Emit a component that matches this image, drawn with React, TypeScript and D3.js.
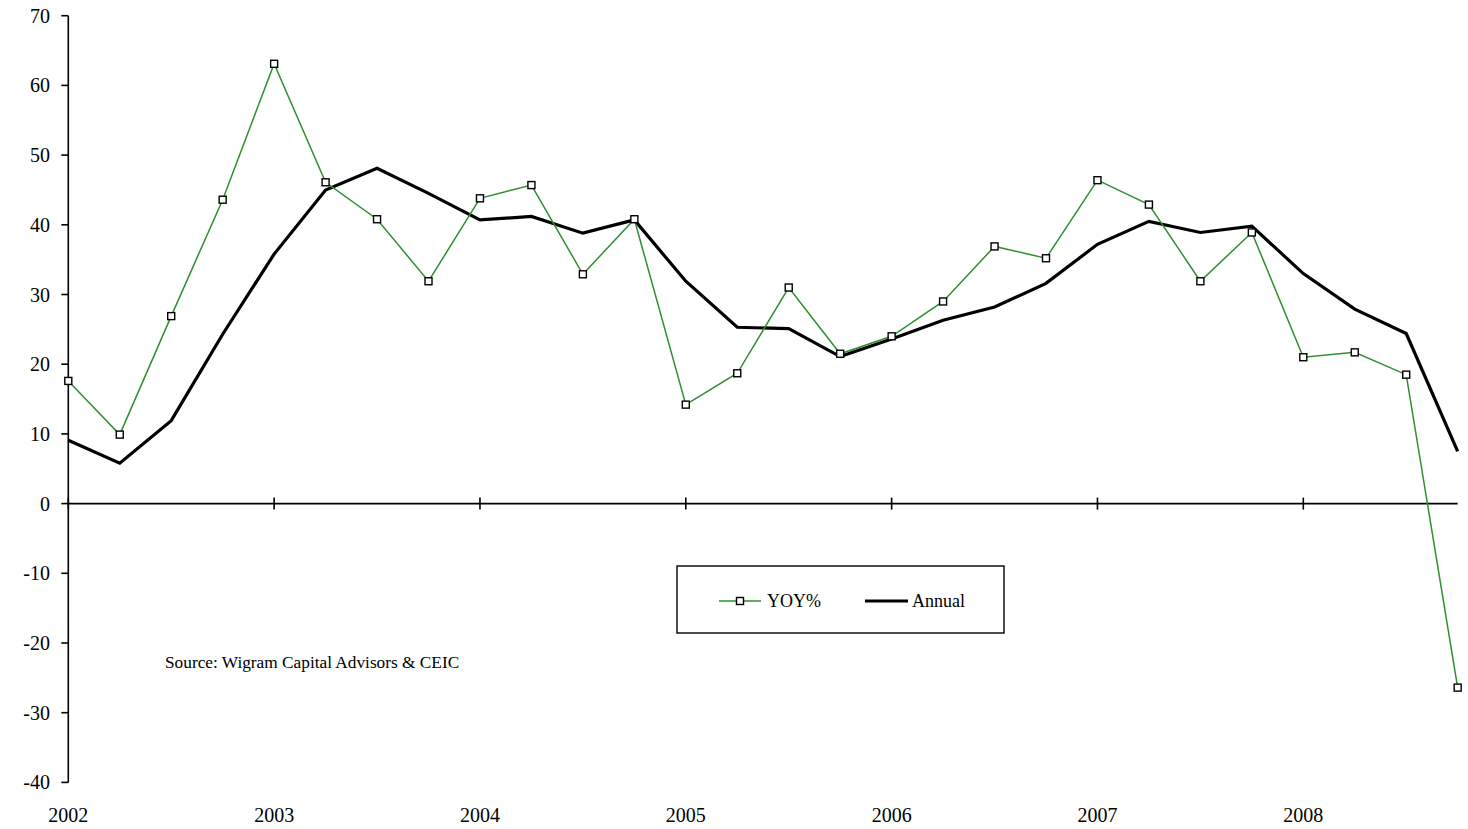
import React from "react";
import * as d3 from "d3";

// Quarterly observations, 2002 Q1 .. 2008 Q4
const quarters: number[] = d3.range(28).map((i) => 2002 + i * 0.25);
const yoy: number[] = [
  17.6, 9.9, 26.9, 43.6, 63.1, 46.1, 40.8, 31.9,
  43.8, 45.7, 32.9, 40.8, 14.2, 18.7, 31.0, 21.5,
  24.0, 29.0, 36.9, 35.2, 46.4, 42.9, 31.9, 38.9,
  21.0, 21.7, 18.5, -26.4,
];
const annual: number[] = [
  9.1, 5.8, 11.9, 24.3, 35.8, 45.0, 48.1, 44.5,
  40.7, 41.2, 38.8, 40.7, 31.9, 25.3, 25.1, 21.1,
  23.6, 26.3, 28.2, 31.6, 37.2, 40.5, 38.9, 39.8,
  33.0, 27.9, 24.4, 7.5,
];
const yearTicks: number[] = [2002, 2003, 2004, 2005, 2006, 2007, 2008];
const valueTicks: number[] = [70, 60, 50, 40, 30, 20, 10, 0, -10, -20, -30, -40];

const W = 1468;
const H = 829;
const FONT = "'Liberation Serif', 'Times New Roman', serif";
const GREEN = "#2f8f2f";

export default function App() {
  const x = d3.scaleLinear().domain([2002, 2008]).range([68.3, 1303.3]);
  const y = d3.scaleLinear().domain([70, -40]).range([15.7, 782.4]);

  const line = d3
    .line<[number, number]>()
    .x((d) => x(d[0]))
    .y((d) => y(d[1]));

  const yoyPts: [number, number][] = quarters.map((q, i) => [q, yoy[i]]);
  const annPts: [number, number][] = quarters.map((q, i) => [q, annual[i]]);

  const lastX = x(quarters[quarters.length - 1]);
  const ms = 7;

  return (
    <svg
      width={W}
      height={H}
      style={{ position: "absolute", left: 0, top: 0, background: "#fff" }}
      fontFamily={FONT}
    >
      {/* value axis */}
      <line x1={x(2002)} x2={x(2002)} y1={y(70)} y2={y(-40)} stroke="#000" strokeWidth={1.6} />
      {valueTicks.map((v) => (
        <g key={v}>
          <line x1={x(2002) - 7} x2={x(2002)} y1={y(v)} y2={y(v)} stroke="#000" strokeWidth={1.6} />
          <text x={50} y={y(v)} dy="0.35em" textAnchor="end" fontSize={20} fill="#000">
            {v}
          </text>
        </g>
      ))}

      {/* time axis along zero */}
      <line x1={x(2002)} x2={lastX} y1={y(0)} y2={y(0)} stroke="#000" strokeWidth={1.6} />
      {yearTicks.map((t) => (
        <g key={t}>
          <line x1={x(t)} x2={x(t)} y1={y(0) - 6} y2={y(0) + 6} stroke="#000" strokeWidth={1.6} />
          <text x={x(t)} y={822} textAnchor="middle" fontSize={20} fill="#000">
            {t}
          </text>
        </g>
      ))}

      {/* annual series */}
      <path d={line(annPts) ?? ""} fill="none" stroke="#000" strokeWidth={3.2} strokeLinejoin="miter" />

      {/* YoY series with square markers */}
      <path d={line(yoyPts) ?? ""} fill="none" stroke={GREEN} strokeWidth={1.5} />
      {yoyPts.map((p, i) => (
        <rect
          key={i}
          x={x(p[0]) - ms / 2}
          y={y(p[1]) - ms / 2}
          width={ms}
          height={ms}
          fill="#fff"
          stroke="#000"
          strokeWidth={1.4}
        />
      ))}

      {/* legend */}
      <rect x={677} y={566} width={327} height={67} fill="#fff" stroke="#000" strokeWidth={1.4} />
      <line x1={719} x2={761} y1={601} y2={601} stroke={GREEN} strokeWidth={1.5} />
      <rect x={740 - ms / 2} y={601 - ms / 2} width={ms} height={ms} fill="#fff" stroke="#000" strokeWidth={1.4} />
      <text x={767} y={601} dy="0.35em" fontSize={18} fill="#000">
        YOY%
      </text>
      <line x1={865} x2={908} y1={601} y2={601} stroke="#000" strokeWidth={3.2} />
      <text x={912} y={601} dy="0.35em" fontSize={18} fill="#000">
        Annual
      </text>

      <text x={165} y={668} fontSize={17.3} fill="#000">
        Source: Wigram Capital Advisors &amp; CEIC
      </text>
    </svg>
  );
}
